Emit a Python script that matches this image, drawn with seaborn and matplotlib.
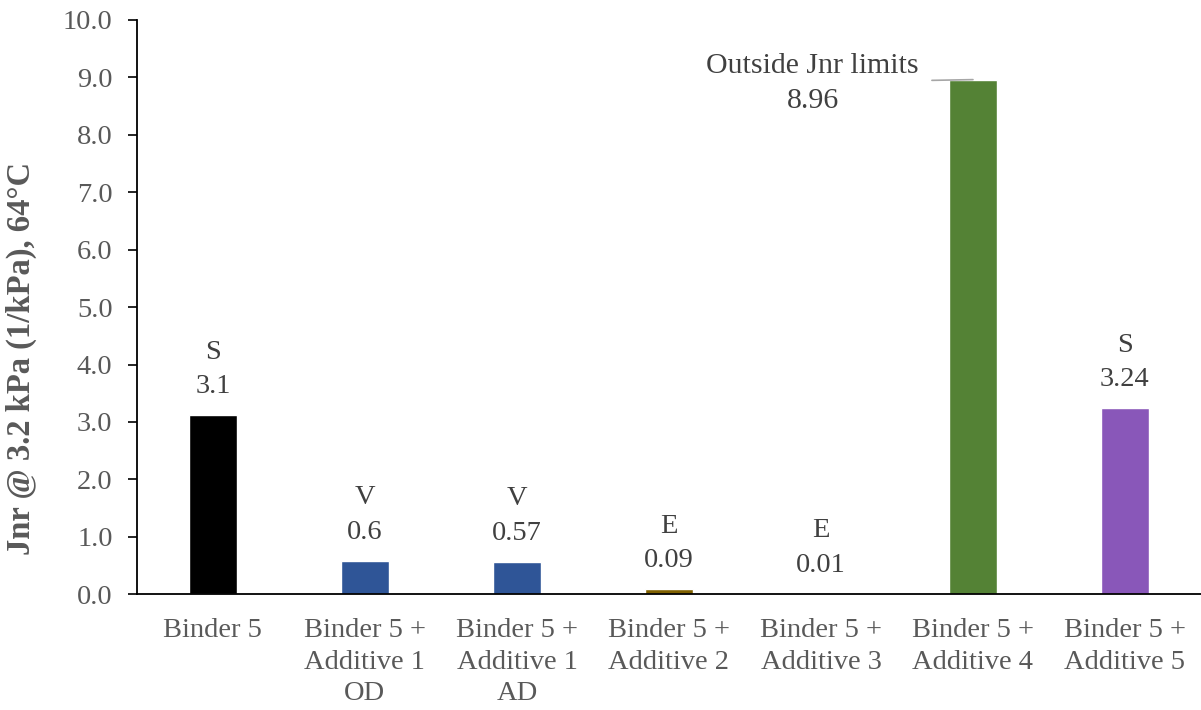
import matplotlib
matplotlib.use("Agg")
import matplotlib.pyplot as plt
import seaborn as sns
import pandas as pd

categories = ["Binder 5", "Binder 5 +\nAdditive 1\nOD", "Binder 5 +\nAdditive 1\nAD",
              "Binder 5 +\nAdditive 2", "Binder 5 +\nAdditive 3", "Binder 5 +\nAdditive 4",
              "Binder 5 +\nAdditive 5"]
jnr = [3.12, 0.58, 0.57, 0.09, 0.01, 8.96, 3.24]
value_labels = ["3.1", "0.6", "0.57", "0.09", "0.01", "8.96", "3.24"]
grades = ["S", "V", "V", "E", "E", "", "S"]
bar_colours = ["#000000", "#2F5597", "#2F5597", "#7F6000", "#A5A5A5", "#548235", "#8957B9"]

sns.set_style("white")
plt.rcParams["font.family"] = ["Liberation Serif", "DejaVu Serif"]

df = pd.DataFrame({"cat": categories, "jnr": jnr})

fig = plt.figure(figsize=(12.01, 7.10), dpi=100)
ax = fig.add_axes([0.114, 0.163, 0.886, 0.809])
sns.barplot(data=df, x="cat", y="jnr", hue="cat", palette=bar_colours,
            legend=False, width=0.32, saturation=1, ax=ax)

ax.set_ylim(0, 10)
ax.set_xlim(-0.5, 6.5)
ax.set_yticks([i for i in range(11)])
ax.set_yticklabels([f"{i:.1f}" for i in range(11)], fontsize=20.5, color="#595959")
ax.tick_params(axis="x", labelsize=20.5, labelcolor="#595959", length=0, pad=17)
ax.tick_params(axis="y", length=6.5, width=1.2, color="black", direction="out", left=True, pad=11)
ax.set_xlabel("")
ax.set_ylabel("Jnr @ 3.2 kPa (1/kPa), 64°C", fontsize=23.5, fontweight="bold",
              color="#595959")
ax.yaxis.set_label_coords(-0.094, 0.411)
for lab in ax.get_xticklabels():
    lab.set_linespacing(1.35)

sns.despine(ax=ax, top=True, right=True)
ax.spines["left"].set_color("black")
ax.spines["bottom"].set_color("black")
ax.spines["left"].set_linewidth(1.3)
ax.spines["bottom"].set_linewidth(1.3)

for i, (v, lab, g) in enumerate(zip(jnr, value_labels, grades)):
    if g == "":
        continue
    ax.annotate(f"{g}\n{lab}", xy=(i, v), xytext=(0, 11.5), textcoords="offset points",
                ha="center", va="bottom", fontsize=20.5, color="#404040", linespacing=1.5)

# outside limits callout
ax.annotate("Outside Jnr limits\n8.96", xy=(5, jnr[5]), xytext=(3.945, 8.89),
            ha="center", va="center", fontsize=21.5, color="#404040", linespacing=1.45,
            arrowprops=dict(arrowstyle="-", color="#A6A6A6", lw=1.2,
                            shrinkA=7, shrinkB=0, relpos=(1.0, 0.55)))

fig.savefig("out.png", dpi=100, facecolor="white")
